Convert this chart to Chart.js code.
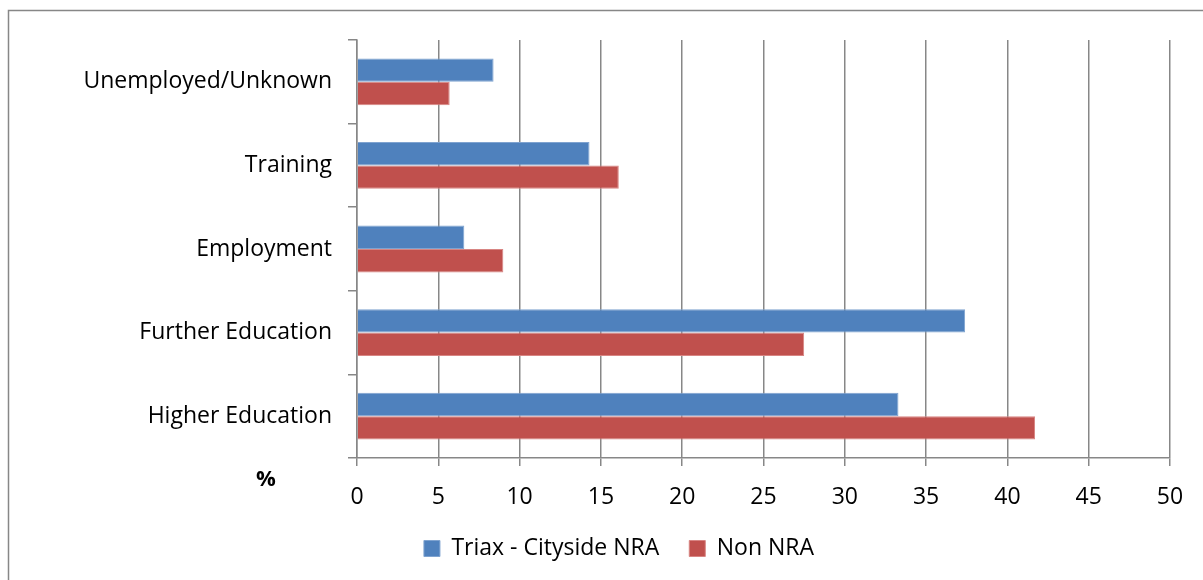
<!DOCTYPE html>
<html>
<head>
<meta charset="utf-8">
<script src="https://cdn.jsdelivr.net/npm/chart.js@4.4.1/dist/chart.umd.min.js"></script>
<style>
  html, body { margin: 0; padding: 0; background: #fff; overflow: hidden; }
  #wrap { position: absolute; left: 0; top: 0; width: 1203px; height: 580px; }
</style>
</head>
<body>
<div id="wrap"><canvas id="chart"></canvas></div>
<script>
// categories, top to bottom
const categories = ["Unemployed/Unknown", "Training", "Employment", "Further Education", "Higher Education"];
// series values (%)
const triaxValues = [8.4, 14.3, 6.6, 37.4, 33.3];
const nonNraValues = [5.7, 16.1, 9.0, 27.5, 41.7];
const seriesNames = ["Triax - Cityside NRA", "Non NRA"];
// x axis ticks
const xMin = 0, xMax = 50, xStep = 5;

const FONT = "'Open Sans', Lato, sans-serif";
const AXIS_GREY = '#878787';

// outer frame + "%" label, legend nudged right like the original
const framePlugin = {
    id: 'frame',
    afterLayout(chart) {
        if (chart.legend) chart.legend.left += 68;
    },
    beforeDraw(chart) {
        const ctx = chart.ctx;
        ctx.save();
        ctx.fillStyle = '#fff';
        ctx.fillRect(0, 0, chart.width, chart.height);
        ctx.strokeStyle = AXIS_GREY;
        ctx.lineWidth = 1.5;
        ctx.strokeRect(8.5, 10.5, chart.width + 20, chart.height + 20);
        ctx.restore();
    },
    afterDraw(chart) {
        const ctx = chart.ctx;
        const area = chart.chartArea;
        ctx.save();
        ctx.fillStyle = '#000';
        ctx.font = "bold 22px " + FONT;
        ctx.textAlign = 'center';
        ctx.textBaseline = 'middle';
        ctx.fillText('%', area.left - 91, area.bottom + 22);
        ctx.restore();
    }
};

const ctx = document.getElementById('chart').getContext('2d');
new Chart(ctx, {
    type: 'bar',
    data: {
        labels: categories,
        datasets: [
            {
                label: seriesNames[0],
                data: triaxValues,
                backgroundColor: '#4F81BD',
                borderColor: '#7FA3D0',
                borderWidth: 1,
                categoryPercentage: 0.56,
                barPercentage: 1.0
            },
            {
                label: seriesNames[1],
                data: nonNraValues,
                backgroundColor: '#C0504D',
                borderColor: '#D88583',
                borderWidth: 1,
                categoryPercentage: 0.56,
                barPercentage: 1.0
            }
        ]
    },
    options: {
        indexAxis: 'y',
        responsive: true,
        maintainAspectRatio: false,
        animation: false,
        layout: { padding: { left: 0, right: 33, top: 40, bottom: 10 } },
        plugins: {
            legend: {
                position: 'bottom',
                labels: {
                    boxWidth: 16,
                    boxHeight: 16,
                    padding: 30,
                    color: '#000',
                    font: { family: FONT, size: 23 }
                }
            },
            tooltip: { enabled: false }
        },
        scales: {
            x: {
                min: xMin,
                max: xMax,
                ticks: { stepSize: xStep, color: '#000', padding: 18, font: { family: FONT, size: 23 } },
                grid: { color: AXIS_GREY, lineWidth: 1.5, tickLength: 8 },
                border: { color: AXIS_GREY, width: 1.5 },
                afterFit(scale) { scale.height = 49; }
            },
            y: {
                ticks: { color: '#000', padding: 16, font: { family: FONT, size: 23 } },
                grid: { drawOnChartArea: false, color: AXIS_GREY, lineWidth: 1.5, tickLength: 9, offset: true },
                border: { color: AXIS_GREY, width: 1.5 },
                afterFit(scale) { scale.width = 357; }
            }
        }
    },
    plugins: [framePlugin]
});
</script>
</body>
</html>
